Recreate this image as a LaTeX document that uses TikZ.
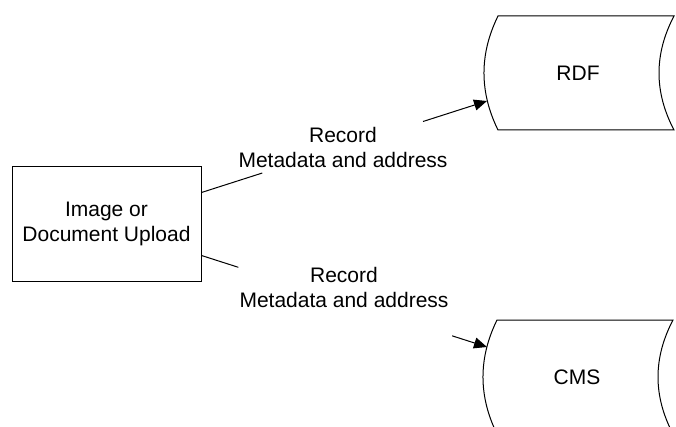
\documentclass[tikz,border=0pt]{standalone}
\usepackage{fontspec}
\setmainfont{Liberation Sans}
\usetikzlibrary{arrows.meta,calc}
\begin{document}
\begin{tikzpicture}[x=1pt,y=-1pt,line width=1pt,
  every node/.style={font=\fontsize{21}{25}\selectfont, align=center, inner sep=0pt},
  procbox/.style={draw, minimum width=189pt, minimum height=114pt},
  flowtip/.style={-{Triangle[length=13pt,width=11pt]}}]
\clip (0,0) rectangle (676,427);

% process box
\node[procbox] (upload) at (106.5,224) {Image or\\Document Upload};

% stored-data shapes
\node (rdf) at (578,73) {RDF};
\node (cms) at (577,377) {CMS};
\foreach \n in {rdf,cms}
  \draw ($(\n)+(-80,-57)$) -- ($(\n)+(96,-57)$)
        .. controls ($(\n)+(76,-19)$) and ($(\n)+(76,19)$) .. ($(\n)+(96,57)$)
        -- ($(\n)+(-80,57)$)
        .. controls ($(\n)+(-98.7,19)$) and ($(\n)+(-98.7,-19)$) .. cycle;

% connector ends
\coordinate (a1) at ($(upload.north east)+(0,26)$);
\coordinate (a2) at ($(rdf)+(-91,28)$);
\coordinate (b1) at ($(upload.south east)+(0,-26)$);
\coordinate (b2) at ($(cms)+(-90,-30)$);

% upload -> RDF
\draw (a1) -- ($(a1)!0.213!(a2)$);
\draw[flowtip] ($(a1)!0.776!(a2)$) -- (a2);
\node (lab1) at (343,147.3) {Record\\Metadata and address};

% upload -> CMS
\draw (b1) -- ($(b1)!0.129!(b2)$);
\draw[flowtip] ($(b1)!0.878!(b2)$) -- (b2);
\node (lab2) at (344,287.3) {Record\\Metadata and address};
\end{tikzpicture}
\end{document}
